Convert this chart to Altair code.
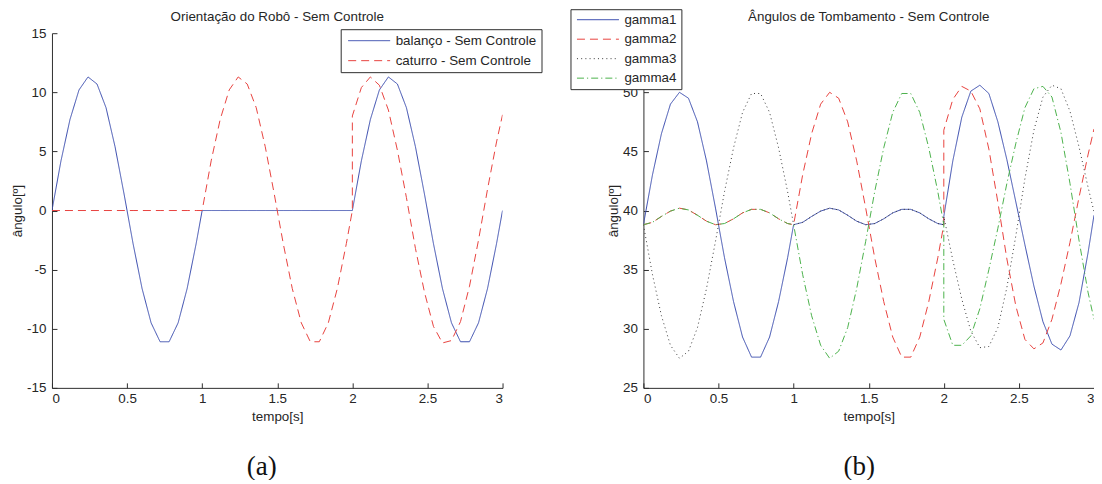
import altair as alt
import pandas as pd

# ---------------- data ----------------
TEMPO = [0.0, 0.06, 0.12, 0.18, 0.24, 0.30, 0.36, 0.42, 0.48, 0.54, 0.60, 0.66, 0.72, 0.78, 0.84, 0.90, 0.96, 1.0,
         1.0, 1.06, 1.12, 1.18, 1.24, 1.30, 1.36, 1.42, 1.48, 1.54, 1.60, 1.66, 1.72, 1.78, 1.84, 1.90, 1.96, 2.0,
         2.0, 2.06, 2.12, 2.18, 2.24, 2.30, 2.36, 2.42, 2.48, 2.54, 2.60, 2.66, 2.72, 2.78, 2.84, 2.90, 2.96, 3.0]

BALANCO = [0.0, 4.2, 7.7, 10.2, 11.3, 10.7, 8.7, 5.4, 1.4, -2.8, -6.6, -9.5, -11.1, -11.1, -9.5, -6.6, -2.8, 0.0,
           0.0, 0.0, 0.0, 0.0, 0.0, 0.0, 0.0, 0.0, 0.0, 0.0, 0.0, 0.0, 0.0, 0.0, 0.0, 0.0, 0.0, 0.0,
           0.0, 4.2, 7.7, 10.2, 11.3, 10.7, 8.7, 5.4, 1.4, -2.8, -6.6, -9.5, -11.1, -11.1, -9.5, -6.6, -2.8, 0.0]

CATURRO = [0.0, 0.0, 0.0, 0.0, 0.0, 0.0, 0.0, 0.0, 0.0, 0.0, 0.0, 0.0, 0.0, 0.0, 0.0, 0.0, 0.0, 0.0,
           0.0, 4.2, 7.7, 10.2, 11.3, 10.7, 8.7, 5.4, 1.4, -2.8, -6.6, -9.5, -11.1, -11.1, -9.5, -6.6, -2.8, 0.0,
           8.0, 10.4, 11.3, 10.6, 8.5, 5.1, 1.1, -3.2, -6.9, -9.8, -11.2, -11.0, -9.4, -6.4, -2.5, 1.8, 5.8, 8.1]

GAMMA1 = [38.8, 43.0, 46.5, 49.0, 50.0, 49.5, 47.5, 44.2, 40.2, 36.0, 32.3, 29.3, 27.6, 27.6, 29.3, 32.3, 36.0, 38.8,
          38.8, 39.0, 39.5, 39.95, 40.2, 40.05, 39.6, 39.1, 38.8, 38.9, 39.3, 39.8, 40.1, 40.1, 39.8, 39.3, 38.9, 38.8,
          39.5, 44.2, 47.9, 50.1, 50.6, 49.9, 47.5, 44.3, 40.7, 37.1, 33.6, 30.6, 28.7, 28.2, 29.4, 32.2, 36.4, 39.6]

GAMMA2 = [38.8, 39.0, 39.5, 39.95, 40.2, 40.05, 39.6, 39.1, 38.8, 38.9, 39.3, 39.8, 40.1, 40.1, 39.8, 39.3, 38.9, 38.8,
          38.8, 43.0, 46.5, 49.0, 50.0, 49.5, 47.5, 44.2, 40.2, 36.0, 32.3, 29.3, 27.6, 27.6, 29.3, 32.3, 36.0, 38.8,
          46.8, 49.4, 50.5, 50.1, 48.6, 45.2, 40.7, 35.9, 31.9, 29.1, 28.3, 28.8, 30.8, 33.8, 37.3, 41.1, 44.7, 46.9]

GAMMA3 = [38.8, 34.6, 31.1, 28.6, 27.5, 28.1, 30.1, 33.4, 37.4, 41.6, 45.3, 48.3, 49.9, 49.9, 48.3, 45.3, 41.6, 38.8,
          38.8, 39.0, 39.5, 39.95, 40.2, 40.05, 39.6, 39.1, 38.8, 38.9, 39.3, 39.8, 40.1, 40.1, 39.8, 39.3, 38.9, 38.8,
          39.5, 35.8, 32.5, 29.8, 28.4, 28.5, 30.1, 33.5, 37.9, 42.7, 46.8, 49.6, 50.6, 50.3, 48.4, 45.4, 42.0, 39.9]

GAMMA4 = [38.8, 39.0, 39.5, 39.95, 40.2, 40.05, 39.6, 39.1, 38.8, 38.9, 39.3, 39.8, 40.1, 40.1, 39.8, 39.3, 38.9, 38.8,
          38.8, 34.6, 31.1, 28.6, 27.5, 28.1, 30.1, 33.4, 37.4, 41.6, 45.3, 48.3, 49.9, 49.9, 48.3, 45.3, 41.6, 38.8,
          30.8, 28.6, 28.6, 29.4, 31.7, 35.0, 38.5, 42.3, 45.7, 48.7, 50.3, 50.5, 49.6, 46.6, 42.3, 37.5, 33.1, 30.8]

NOMES_A = ["balanço - Sem Controle", "caturro - Sem Controle"]
NOMES_B = ["gamma1", "gamma2", "gamma3", "gamma4"]
X_TICKS = [0, 0.5, 1, 1.5, 2, 2.5, 3]
Y_TICKS_A = [-15, -10, -5, 0, 5, 10, 15]
Y_TICKS_B = [25, 30, 35, 40, 45, 50]
TITULO_A = "Orientação do Robô - Sem Controle"
TITULO_B = "Ângulos de Tombamento - Sem Controle"

# ---------------- style ----------------
FONT = "Liberation Sans"
SERIF = "Liberation Serif"
TXT = "#262626"
AX = "#2e2e2e"
BLUE = "#3a4cae"
RED = "#e8433f"
BLACK = "#3a3a3a"
GREEN = "#4cb24c"
SOLID = [1, 0]
DASH = [8, 5]
DOT = [1, 3.2]
DASHDOT = [7, 3, 1.2, 3]
FS = 13.4
W = 451
H = 355


def long_df(series, names):
    rows = []
    for name, vals in zip(names, series):
        for i, (t, v) in enumerate(zip(TEMPO, vals)):
            rows.append({"t": t, "v": v, "serie": name, "i": i})
    return pd.DataFrame(rows)


def painel(df, nomes, cores, tracos, ydom, yticks, titulo, lx, ly, lpad, lrow, rotulo, rx):
    leg = dict(orient="none", legendX=lx, legendY=ly, title=None, direction="vertical",
               padding=lpad, rowPadding=lrow)
    linhas = alt.Chart(df).mark_line(strokeWidth=1, clip=True).encode(
        x=alt.X("t:Q", scale=alt.Scale(domain=[0, 3], nice=False, zero=False),
                axis=alt.Axis(values=X_TICKS, title="tempo[s]", labelExpr="'' + datum.value")),
        y=alt.Y("v:Q", scale=alt.Scale(domain=ydom, nice=False, zero=False),
                axis=alt.Axis(values=yticks, title="ângulo[º]", labelExpr="'' + datum.value")),
        color=alt.Color("serie:N", scale=alt.Scale(domain=nomes, range=cores), legend=alt.Legend(**leg)),
        strokeDash=alt.StrokeDash("serie:N", scale=alt.Scale(domain=nomes, range=tracos), legend=alt.Legend(**leg)),
        order="i:Q",
    )
    tit = alt.Chart(pd.DataFrame({"r": [titulo]})).mark_text(
        font=FONT, fontSize=FS, color=TXT, align="center", baseline="middle"
    ).encode(text="r:N", x=alt.value(W / 2), y=alt.value(-16))
    rot = alt.Chart(pd.DataFrame({"r": [rotulo]})).mark_text(
        font=SERIF, fontSize=27, color="#111111", align="center", baseline="middle"
    ).encode(text="r:N", x=alt.value(rx), y=alt.value(434))
    return alt.layer(linhas, tit, rot).properties(width=W, height=H)


df_a = long_df([BALANCO, CATURRO], NOMES_A)
df_b = long_df([GAMMA1, GAMMA2, GAMMA3, GAMMA4], NOMES_B)

pa = painel(df_a, NOMES_A, [BLUE, RED], [SOLID, DASH], [-15, 15], Y_TICKS_A, TITULO_A,
            289, -4, 5, 6, "(a)", 210)
pb = painel(df_b, NOMES_B, [BLUE, RED, BLACK, GREEN], [SOLID, DASH, DOT, DASHDOT], [25, 55], Y_TICKS_B,
            TITULO_B, -73, -24, 4, 5.5, "(b)", 216)

chart = alt.hconcat(pa, pb, spacing=141, bounds="flush").resolve_scale(
    color="independent", strokeDash="independent"
).resolve_legend(
    color="independent", strokeDash="independent"
).properties(
    padding={"left": 2, "top": 0, "right": 0, "bottom": 0}
).configure_view(stroke=None).configure_axis(
    domainColor=AX, domainWidth=1, ticks=False, grid=True, gridColor=AX, gridWidth=1, gridOpacity=1,
    labelFont=FONT, labelFontSize=FS, labelColor=TXT,
    titleFont=FONT, titleFontSize=FS, titleFontWeight="normal", titleColor=TXT,
).configure_axisX(
    labelPadding=3.5, titlePadding=5, gridDash=[0, H - 5, 5, 50]
).configure_axisY(
    labelPadding=6, titlePadding=2, gridDash=[5, 2000]
).configure_legend(
    fillColor="white", strokeColor=AX, cornerRadius=0,
    symbolType="stroke", symbolSize=1764, symbolStrokeWidth=1, symbolOffset=2,
    labelFont=FONT, labelFontSize=FS, labelColor=TXT, labelOffset=5, labelLimit=400,
    clipHeight=13,
)

chart.save("out.html", embed_options={"renderer": "svg", "actions": False})
